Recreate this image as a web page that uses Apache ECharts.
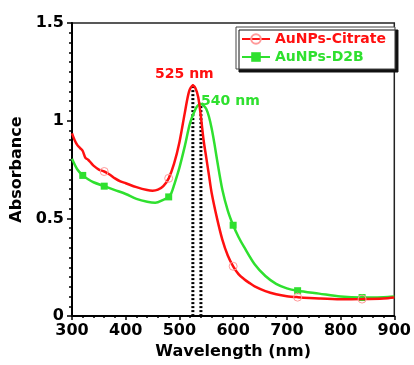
<!DOCTYPE html>
<html>
<head>
<meta charset="utf-8">
<script src="https://cdn.jsdelivr.net/npm/echarts@6/dist/echarts.min.js"></script>
<style>
html,body{margin:0;padding:0;background:#fff;}
#chart{width:414px;height:365px;}
</style>
</head>
<body>
<div id="chart"></div>
<script>
// Wavelengths (nm) and absorbance for AuNPs-Citrate
var citrateX = [300,305,310,315,320,325,330,335,340,350,360,370,380,390,400,420,440,450,460,470,480,490,500,510,518,525,530,535,540,545,550,555,560,570,580,590,600,610,620,630,640,660,680,700,720,760,800,840,880,900];
var citrateY = [0.935,0.90,0.875,0.86,0.845,0.81,0.80,0.785,0.77,0.75,0.74,0.725,0.705,0.69,0.68,0.66,0.645,0.642,0.647,0.665,0.705,0.78,0.89,1.04,1.15,1.18,1.165,1.12,1.02,0.90,0.81,0.72,0.63,0.50,0.39,0.31,0.255,0.215,0.19,0.17,0.152,0.128,0.112,0.102,0.097,0.09,0.086,0.087,0.09,0.095];
// Wavelengths (nm) and absorbance for AuNPs-D2B
var d2bX = [300,310,320,330,340,360,380,400,420,440,455,470,480,485,490,500,510,520,530,535,540,545,550,555,560,565,570,580,590,600,610,620,640,660,680,700,720,760,800,840,880,900];
var d2bY = [0.805,0.75,0.72,0.70,0.685,0.665,0.645,0.625,0.60,0.585,0.58,0.595,0.61,0.63,0.67,0.76,0.87,0.99,1.06,1.08,1.085,1.078,1.06,1.02,0.96,0.885,0.80,0.645,0.54,0.465,0.405,0.355,0.265,0.205,0.165,0.142,0.13,0.115,0.10,0.095,0.097,0.10];
// Marker positions (nm)
var citrateMarkers = [360,480,600,720,840];
var d2bMarkers = [320,360,480,600,720,840];
// Peak positions
var peakCitrate = 525, peakD2B = 540;
var peakLabels = ['525 nm','540 nm'];
var seriesNames = ['AuNPs-Citrate','AuNPs-D2B'];

var RED = '#ff1010', GREEN = '#2fe02f', PINK = '#ff9a9a';
var FONT = 'DejaVu Sans';

function build(xs, ys, markers, sym, size, peak, labelCfg, lineColor) {
  return xs.map(function (x, i) {
    var item = { value: [x, ys[i]] };
    if (markers.indexOf(x) >= 0) { item.symbol = sym; item.symbolSize = size; }
    else if (x === peak) {
      item.symbol = 'circle'; item.symbolSize = 2;
      item.itemStyle = { color: lineColor, borderColor: lineColor };
    }
    else item.symbol = 'none';
    if (x === peak) item.label = labelCfg;
    return item;
  });
}
function peakY(xs, ys, p) { return ys[xs.indexOf(p)]; }

var chart = echarts.init(document.getElementById('chart'));
chart.setOption({
  animation: false,
  backgroundColor: '#fff',
  grid: { left: 72, right: 17, top: 23, bottom: 41, show: true, borderColor: '#222', borderWidth: 1.5 },
  legend: {
    data: seriesNames.map(function (n, i) { return { name: n, textStyle: { color: i === 0 ? RED : GREEN } }; }),
    orient: 'vertical',
    left: 236, top: 27,
    padding: [5, 9, 5, 5],
    itemWidth: 28, itemHeight: 12, itemGap: 4,
    backgroundColor: '#fff',
    borderColor: '#444', borderWidth: 1,
    shadowColor: '#111', shadowBlur: 0, shadowOffsetX: 3, shadowOffsetY: 3,
    textStyle: { fontFamily: FONT, fontWeight: 'bold', fontSize: 14 }
  },
  xAxis: {
    type: 'value', min: 300, max: 900, interval: 100,
    name: 'Wavelength (nm)', nameLocation: 'middle', nameGap: 23,
    nameTextStyle: { fontFamily: FONT, fontWeight: 'bold', fontSize: 16, color: '#000' },
    axisLine: { lineStyle: { color: '#000', width: 2 } },
    axisTick: { length: 4, lineStyle: { color: '#000', width: 1.5 } },
    minorTick: { show: true, splitNumber: 5, length: 2, lineStyle: { color: '#000', width: 1.5 } },
    axisLabel: { fontFamily: FONT, fontWeight: 'bold', fontSize: 16, color: '#000', margin: 7 },
    splitLine: { show: false }
  },
  yAxis: {
    type: 'value', min: 0, max: 1.5, interval: 0.5,
    name: 'Absorbance', nameLocation: 'middle', nameGap: 42, nameRotate: 90,
    nameTextStyle: { fontFamily: FONT, fontWeight: 'bold', fontSize: 16, color: '#000' },
    axisLine: { lineStyle: { color: '#000', width: 2 } },
    axisTick: { length: 5, lineStyle: { color: '#000', width: 1.5 } },
    minorTick: { show: true, splitNumber: 10, length: 3, lineStyle: { color: '#000', width: 1.5 } },
    axisLabel: { fontFamily: FONT, fontWeight: 'bold', fontSize: 16, color: '#000', margin: 8 },
    splitLine: { show: false }
  },
  series: [
    {
      name: '_peak1', type: 'line', silent: true, symbol: 'none', z: 1,
      lineStyle: { color: '#000', width: 3, type: [2, 2] },
      data: [[peakCitrate, 0], [peakCitrate, peakY(citrateX, citrateY, peakCitrate)]]
    },
    {
      name: '_peak2', type: 'line', silent: true, symbol: 'none', z: 1,
      lineStyle: { color: '#000', width: 3, type: [2, 2] },
      data: [[peakD2B, 0], [peakD2B, peakY(d2bX, d2bY, peakD2B)]]
    },
    {
      name: seriesNames[1], type: 'line', smooth: 0.3, showAllSymbol: true,
      symbol: 'rect', symbolSize: 7, z: 3,
      itemStyle: { color: GREEN },
      lineStyle: { color: GREEN, width: 2.5 },
      labelLayout: { hideOverlap: false },
      data: build(d2bX, d2bY, d2bMarkers, 'rect', 7, peakD2B,
        { show: true, formatter: peakLabels[1], position: [31, -1], align: 'center', verticalAlign: 'middle',
          color: GREEN, fontFamily: FONT, fontWeight: 'bold', fontSize: 14 }, GREEN)
    },
    {
      name: seriesNames[0], type: 'line', smooth: 0.3, showAllSymbol: true,
      symbol: 'circle', symbolSize: 8, z: 4,
      itemStyle: { color: 'rgba(255,255,255,0)', borderColor: PINK, borderWidth: 1 },
      lineStyle: { color: RED, width: 2.5 },
      labelLayout: { hideOverlap: false },
      data: build(citrateX, citrateY, citrateMarkers, 'circle', 8, peakCitrate,
        { show: true, formatter: peakLabels[0], position: [-7, -10], align: 'center', verticalAlign: 'middle',
          color: RED, fontFamily: FONT, fontWeight: 'bold', fontSize: 14 }, RED)
    }
  ]
});
</script>
</body>
</html>
